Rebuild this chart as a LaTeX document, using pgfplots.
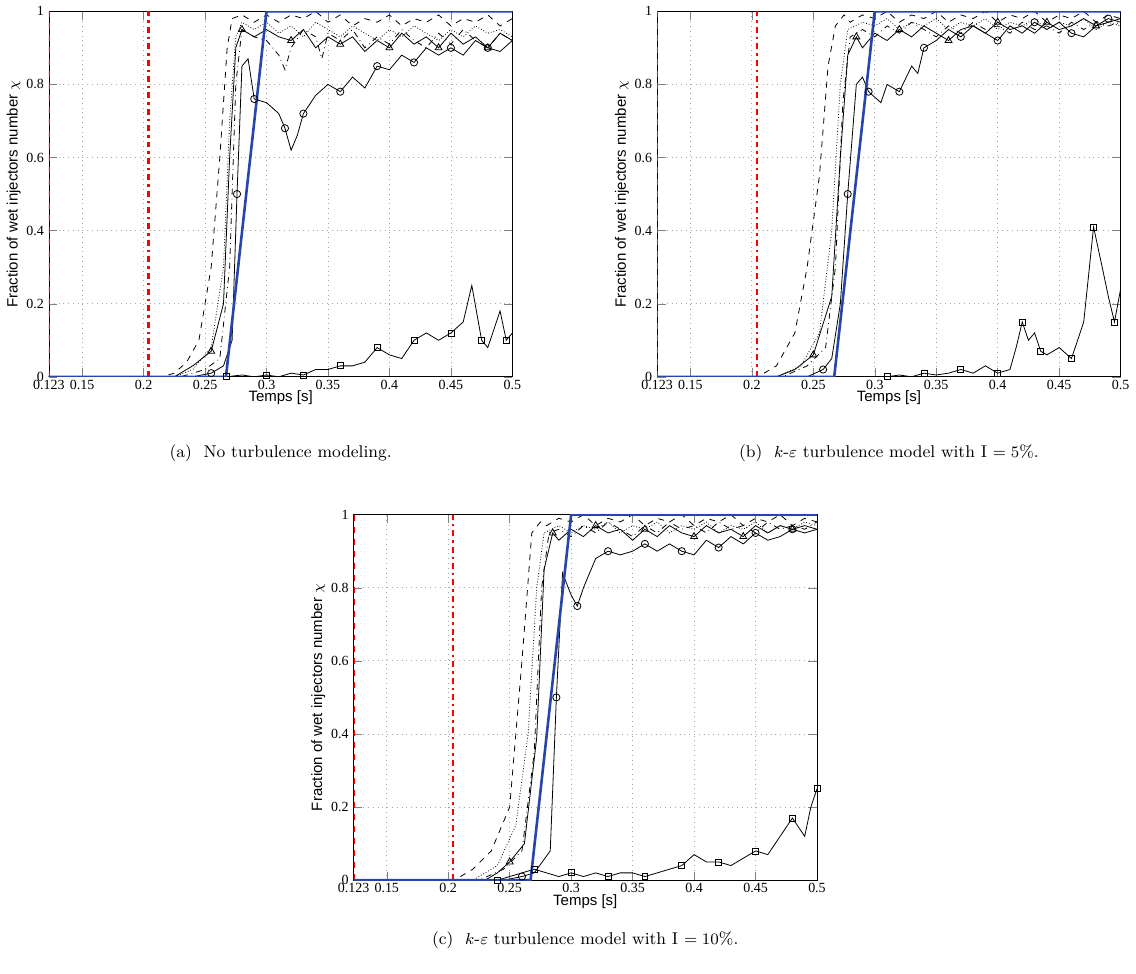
\documentclass[border=0pt]{standalone}
\usepackage{pgfplots}
\pgfplotsset{compat=1.18}
\usepackage{fontspec}
\newfontfamily\ser{Liberation Serif}
\newfontfamily\san{Liberation Sans}
\pgfplotsset{
  panel/.style={scale only axis, width=232pt, height=183pt, xmin=0.123, xmax=0.5, ymin=0, ymax=1,
    xtick={0.123,0.15,0.2,0.25,0.3,0.35,0.4,0.45,0.5},
    xticklabels={0.123,0.15,0.2,0.25,0.3,0.35,0.4,0.45,0.5},
    ytick={0,0.2,0.4,0.6,0.8,1}, yticklabels={0,0.2,0.4,0.6,0.8,1},
    grid=major, major grid style={dotted, gray!70},
    tick label style={font=\ser\fontsize{7}{8}\selectfont}, tick align=inside,
    xlabel={\san Temps [s]}, ylabel={\san Fraction of wet injectors number $\chi$},
    label style={font=\fontsize{7.5}{9}\selectfont},
    xlabel style={yshift=6pt}, ylabel style={yshift=-4pt},
    xticklabel style={yshift=2pt}, yticklabel style={xshift=1pt},
    every axis plot/.append style={line width=0.4pt, black}},
  rv/.style={red, line width=1.2pt, dashed},
  rd/.style={red, line width=1.2pt, dash dot},
  bl/.style={color={rgb,255:red,40;green,70;blue,170}, line width=1.3pt},
  tri/.style={mark=triangle, mark size=2pt, mark repeat=4, mark phase=4, mark options={solid}},
  cir/.style={mark=o, mark size=1.8pt, mark repeat=3, mark phase=3, mark options={solid}},
  sq/.style={mark=square, mark size=1.5pt, mark repeat=3, mark phase=2, mark options={solid}},
}
\begin{document}
\begin{tikzpicture}
\path (0,0) rectangle (568pt,-485.5pt);
% ---------- (a)
\begin{axis}[panel, at={(24.5pt,-187pt)}, anchor=south west]
\addplot[rv] coordinates {(0.123,0)(0.123,1)};
\addplot[rd] coordinates {(0.204,0)(0.204,1)};
\addplot[dashed] coordinates {(0.123,0)(0.215,0)(0.225,0.01)(0.235,0.04)(0.245,0.1)(0.255,0.3)(0.262,0.6)(0.268,0.9)(0.272,0.98)(0.28,0.99)(0.29,0.97)(0.3,0.99)(0.31,0.97)(0.32,0.99)(0.33,0.98)(0.34,1)(0.35,0.97)(0.36,0.99)(0.37,0.96)(0.38,0.98)(0.39,0.97)(0.4,0.99)(0.41,0.96)(0.42,0.98)(0.43,0.97)(0.44,0.99)(0.45,0.96)(0.46,0.98)(0.47,0.97)(0.48,0.99)(0.49,0.96)(0.5,0.98)};
\addplot[densely dotted] coordinates {(0.123,0)(0.225,0)(0.24,0.02)(0.255,0.08)(0.265,0.3)(0.27,0.7)(0.275,0.93)(0.28,0.97)(0.29,0.95)(0.3,0.97)(0.31,0.94)(0.32,0.96)(0.33,0.93)(0.34,0.97)(0.35,0.95)(0.36,0.93)(0.37,0.96)(0.38,0.94)(0.39,0.92)(0.4,0.95)(0.41,0.93)(0.42,0.96)(0.43,0.94)(0.44,0.92)(0.45,0.95)(0.46,0.93)(0.47,0.96)(0.48,0.94)(0.49,0.95)(0.5,0.93)};
\addplot[dash dot] coordinates {(0.123,0)(0.23,0)(0.25,0.02)(0.262,0.05)(0.27,0.3)(0.275,0.8)(0.28,0.95)(0.29,0.93)(0.3,0.92)(0.31,0.88)(0.315,0.84)(0.32,0.9)(0.33,0.95)(0.34,0.93)(0.345,0.87)(0.35,0.94)(0.36,0.92)(0.37,0.95)(0.38,0.9)(0.39,0.93)(0.4,0.91)(0.41,0.95)(0.42,0.92)(0.43,0.9)(0.44,0.94)(0.45,0.91)(0.46,0.95)(0.47,0.92)(0.48,0.9)(0.49,0.94)(0.5,0.92)};
\addplot[tri] coordinates {(0.123,0)(0.225,0)(0.24,0.03)(0.255,0.07)(0.265,0.2)(0.27,0.6)(0.275,0.9)(0.28,0.95)(0.29,0.93)(0.3,0.95)(0.31,0.93)(0.32,0.92)(0.33,0.95)(0.34,0.9)(0.35,0.93)(0.36,0.91)(0.37,0.93)(0.38,0.89)(0.39,0.92)(0.4,0.9)(0.41,0.94)(0.42,0.91)(0.43,0.93)(0.44,0.9)(0.45,0.94)(0.46,0.91)(0.47,0.93)(0.48,0.9)(0.49,0.94)(0.5,0.92)};
\addplot[cir] coordinates {(0.123,0)(0.24,0)(0.255,0.01)(0.265,0.03)(0.272,0.1)(0.276,0.5)(0.28,0.85)(0.285,0.87)(0.29,0.76)(0.3,0.75)(0.31,0.72)(0.315,0.68)(0.32,0.62)(0.325,0.66)(0.33,0.72)(0.34,0.77)(0.35,0.8)(0.36,0.78)(0.37,0.82)(0.38,0.79)(0.39,0.85)(0.4,0.84)(0.41,0.88)(0.42,0.86)(0.43,0.9)(0.44,0.88)(0.45,0.9)(0.46,0.88)(0.47,0.92)(0.48,0.9)(0.49,0.89)(0.5,0.92)};
\addplot[sq] coordinates {(0.123,0)(0.267,0)(0.28,0.005)(0.29,0.0)(0.3,0.005)(0.31,0.0)(0.32,0.01)(0.33,0.005)(0.34,0.02)(0.35,0.02)(0.36,0.03)(0.37,0.03)(0.38,0.04)(0.39,0.08)(0.4,0.06)(0.41,0.05)(0.42,0.1)(0.43,0.12)(0.44,0.1)(0.45,0.12)(0.46,0.15)(0.467,0.25)(0.475,0.1)(0.48,0.08)(0.49,0.18)(0.495,0.1)(0.5,0.12)};
\addplot[bl] coordinates {(0.123,0)(0.267,0)(0.3,1)(0.5,1)};
\end{axis}
\node[font=\fontsize{8.5}{10}\selectfont] at (140.5pt,-225.5pt) {(a)\ \ No turbulence modeling.};
% ---------- (b)
\begin{axis}[panel, at={(329pt,-187pt)}, anchor=south west]
\addplot[rv] coordinates {(0.123,0)(0.123,1)};
\addplot[rd] coordinates {(0.204,0)(0.204,1)};
\addplot[dashed] coordinates {(0.123,0)(0.205,0)(0.22,0.03)(0.235,0.12)(0.245,0.3)(0.255,0.55)(0.262,0.85)(0.268,0.96)(0.275,0.99)(0.28,0.97)(0.29,0.99)(0.3,0.98)(0.31,1)(0.32,0.97)(0.33,0.99)(0.34,0.98)(0.35,1)(0.36,0.97)(0.37,0.99)(0.38,0.98)(0.39,1)(0.4,0.97)(0.41,0.99)(0.42,0.98)(0.43,1)(0.44,0.97)(0.45,0.99)(0.46,0.98)(0.47,1)(0.48,0.97)(0.49,0.99)(0.5,0.98)};
\addplot[densely dotted] coordinates {(0.123,0)(0.22,0)(0.24,0.03)(0.255,0.12)(0.265,0.4)(0.272,0.8)(0.278,0.95)(0.29,0.97)(0.3,0.96)(0.31,0.98)(0.32,0.95)(0.33,0.97)(0.34,0.96)(0.35,0.98)(0.36,0.95)(0.37,0.97)(0.38,0.96)(0.39,0.98)(0.4,0.95)(0.41,0.97)(0.42,0.96)(0.43,0.98)(0.44,0.95)(0.45,0.97)(0.46,0.96)(0.47,0.98)(0.48,0.95)(0.49,0.97)(0.5,0.96)};
\addplot[dash dot] coordinates {(0.123,0)(0.225,0)(0.245,0.03)(0.26,0.08)(0.268,0.3)(0.274,0.75)(0.28,0.93)(0.29,0.95)(0.3,0.93)(0.31,0.96)(0.32,0.94)(0.33,0.97)(0.34,0.95)(0.35,0.93)(0.36,0.96)(0.37,0.94)(0.38,0.97)(0.39,0.95)(0.4,0.96)(0.41,0.94)(0.42,0.97)(0.43,0.95)(0.44,0.96)(0.45,0.94)(0.46,0.97)(0.47,0.95)(0.48,0.97)(0.49,0.96)(0.5,0.97)};
\addplot[tri] coordinates {(0.123,0)(0.22,0)(0.235,0.02)(0.25,0.06)(0.265,0.22)(0.272,0.6)(0.278,0.88)(0.285,0.93)(0.29,0.9)(0.3,0.94)(0.31,0.92)(0.32,0.95)(0.33,0.93)(0.34,0.96)(0.35,0.94)(0.36,0.92)(0.37,0.95)(0.38,0.96)(0.39,0.94)(0.4,0.97)(0.41,0.95)(0.42,0.96)(0.43,0.94)(0.44,0.97)(0.45,0.95)(0.46,0.96)(0.47,0.98)(0.48,0.96)(0.49,0.97)(0.5,0.98)};
\addplot[cir] coordinates {(0.123,0)(0.245,0)(0.258,0.02)(0.265,0.05)(0.272,0.2)(0.278,0.5)(0.285,0.8)(0.29,0.82)(0.295,0.78)(0.305,0.75)(0.31,0.8)(0.32,0.78)(0.33,0.85)(0.335,0.83)(0.34,0.9)(0.35,0.92)(0.36,0.95)(0.37,0.93)(0.38,0.96)(0.39,0.94)(0.4,0.92)(0.41,0.96)(0.42,0.94)(0.43,0.97)(0.44,0.95)(0.45,0.97)(0.46,0.94)(0.47,0.93)(0.48,0.96)(0.49,0.98)(0.5,0.97)};
\addplot[sq] coordinates {(0.123,0)(0.31,0)(0.32,0.005)(0.33,0.0)(0.34,0.01)(0.35,0.005)(0.36,0.01)(0.37,0.02)(0.38,0.01)(0.39,0.03)(0.4,0.01)(0.41,0.02)(0.415,0.08)(0.42,0.15)(0.425,0.1)(0.43,0.12)(0.435,0.07)(0.44,0.06)(0.45,0.08)(0.46,0.05)(0.465,0.1)(0.47,0.15)(0.478,0.41)(0.485,0.3)(0.49,0.22)(0.495,0.15)(0.5,0.24)};
\addplot[bl] coordinates {(0.123,0)(0.267,0)(0.3,1)(0.5,1)};
\end{axis}
\node[font=\fontsize{8.5}{10}\selectfont] at (445pt,-225.5pt) {(b)\ \ $k$-$\varepsilon$ turbulence model with I $=5\%$.};
% ---------- (c)
\begin{axis}[panel, at={(177pt,-439pt)}, anchor=south west]
\addplot[rv] coordinates {(0.123,0)(0.123,1)};
\addplot[rd] coordinates {(0.204,0)(0.204,1)};
\addplot[dashed] coordinates {(0.123,0)(0.205,0)(0.22,0.03)(0.235,0.08)(0.25,0.2)(0.26,0.6)(0.268,0.95)(0.275,0.98)(0.28,0.97)(0.29,0.99)(0.3,0.98)(0.31,1)(0.32,0.97)(0.33,0.99)(0.34,0.98)(0.35,1)(0.36,0.97)(0.37,0.99)(0.38,0.98)(0.39,1)(0.4,0.97)(0.41,0.99)(0.42,0.98)(0.43,1)(0.44,0.97)(0.45,0.99)(0.46,0.98)(0.47,1)(0.48,0.97)(0.49,0.99)(0.5,0.98)};
\addplot[densely dotted] coordinates {(0.123,0)(0.22,0)(0.24,0.04)(0.255,0.15)(0.265,0.4)(0.272,0.8)(0.278,0.95)(0.29,0.97)(0.3,0.95)(0.31,0.97)(0.32,0.96)(0.33,0.98)(0.34,0.95)(0.35,0.97)(0.36,0.96)(0.37,0.98)(0.38,0.95)(0.39,0.97)(0.4,0.96)(0.41,0.98)(0.42,0.95)(0.43,0.97)(0.44,0.96)(0.45,0.98)(0.46,0.95)(0.47,0.97)(0.48,0.96)(0.49,0.98)(0.5,0.97)};
\addplot[dash dot] coordinates {(0.123,0)(0.225,0)(0.245,0.03)(0.26,0.08)(0.27,0.35)(0.276,0.8)(0.282,0.95)(0.29,0.96)(0.3,0.94)(0.31,0.97)(0.32,0.95)(0.33,0.98)(0.34,0.96)(0.35,0.94)(0.36,0.97)(0.37,0.95)(0.38,0.98)(0.39,0.96)(0.4,0.97)(0.41,0.95)(0.42,0.98)(0.43,0.96)(0.44,0.97)(0.45,0.95)(0.46,0.98)(0.47,0.96)(0.48,0.97)(0.49,0.96)(0.5,0.98)};
\addplot[tri] coordinates {(0.123,0)(0.23,0)(0.24,0.02)(0.25,0.05)(0.262,0.1)(0.272,0.39)(0.278,0.85)(0.285,0.95)(0.29,0.93)(0.3,0.96)(0.31,0.94)(0.32,0.97)(0.33,0.95)(0.34,0.96)(0.35,0.93)(0.36,0.96)(0.37,0.94)(0.38,0.97)(0.39,0.95)(0.4,0.94)(0.41,0.97)(0.42,0.95)(0.43,0.96)(0.44,0.94)(0.45,0.97)(0.46,0.95)(0.47,0.97)(0.48,0.96)(0.49,0.97)(0.5,0.96)};
\addplot[cir] coordinates {(0.123,0)(0.245,0)(0.26,0.01)(0.27,0.02)(0.283,0.08)(0.288,0.5)(0.293,0.84)(0.3,0.78)(0.305,0.75)(0.31,0.8)(0.32,0.88)(0.33,0.9)(0.34,0.89)(0.35,0.9)(0.36,0.92)(0.37,0.9)(0.38,0.92)(0.39,0.9)(0.4,0.89)(0.41,0.93)(0.42,0.91)(0.43,0.94)(0.44,0.92)(0.45,0.95)(0.46,0.93)(0.47,0.94)(0.48,0.96)(0.49,0.95)(0.5,0.96)};
\addplot[sq] coordinates {(0.123,0)(0.24,0)(0.25,0.01)(0.26,0.02)(0.27,0.03)(0.28,0.02)(0.29,0.01)(0.3,0.02)(0.31,0.01)(0.32,0.02)(0.33,0.01)(0.34,0.02)(0.35,0.02)(0.36,0.01)(0.37,0.02)(0.38,0.03)(0.39,0.04)(0.4,0.07)(0.41,0.05)(0.42,0.05)(0.43,0.04)(0.44,0.06)(0.45,0.08)(0.46,0.07)(0.47,0.12)(0.48,0.17)(0.49,0.12)(0.495,0.2)(0.5,0.25)};
\addplot[bl] coordinates {(0.123,0)(0.267,0)(0.3,1)(0.5,1)};
\end{axis}
\node[font=\fontsize{8.5}{10}\selectfont] at (293pt,-469pt) {(c)\ \ $k$-$\varepsilon$ turbulence model with I $=10\%$.};
\end{tikzpicture}
\end{document}
